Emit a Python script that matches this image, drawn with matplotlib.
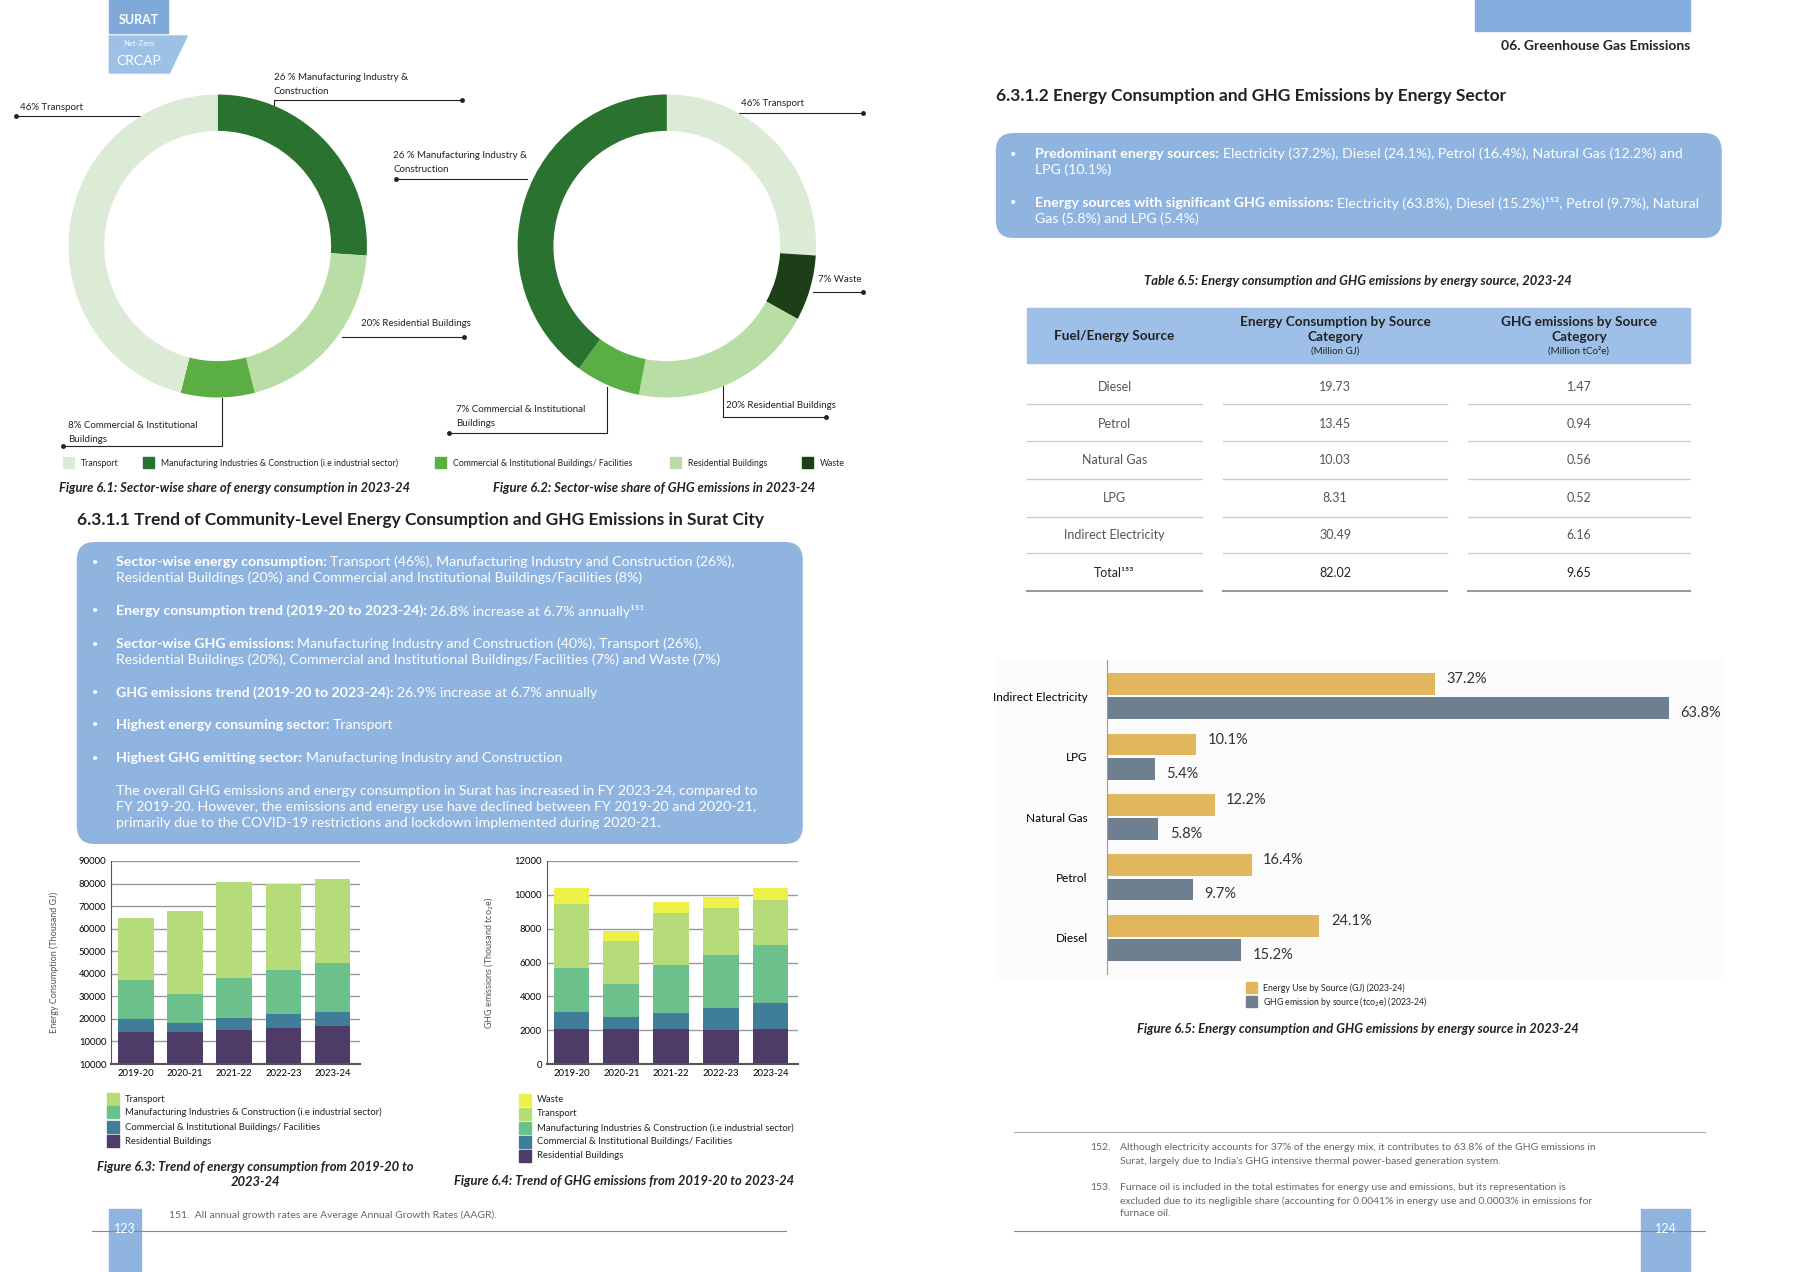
import numpy as np
import matplotlib
matplotlib.use("Agg")
import matplotlib.pyplot as plt
from matplotlib.patches import Rectangle, FancyBboxPatch, Polygon

plt.rcParams['font.family'] = ['Lato', 'DejaVu Sans']

W, H = 1800, 1272
XS = W / 0.985  # layout coords were read slightly wide

# ---- data ----
sectors_e = ["Manufacturing", "Residential", "Commercial", "Transport"]
share_energy = [26, 20, 8, 46]
sectors_g = ["Transport", "Waste", "Residential", "Commercial", "Manufacturing"]
share_ghg = [26, 7, 20, 7, 40]

years = ["2019-20", "2020-21", "2021-22", "2022-23", "2023-24"]
en_res = [14300, 14000, 15000, 15800, 16800]
en_com = [5500, 4200, 5500, 6200, 6400]
en_man = [17400, 12800, 17500, 19800, 21500]
en_tra = [27500, 37000, 42800, 38000, 37200]

gh_res = [2050, 2050, 2050, 2000, 2050]
gh_com = [1050, 700, 950, 1300, 1550]
gh_man = [2550, 2000, 2850, 3150, 3450]
gh_tra = [3800, 2550, 3050, 2750, 2650]
gh_was = [950, 550, 650, 650, 700]

sources = ["Diesel", "Petrol", "Natural Gas", "LPG", "Indirect Electricity"]
energy_pct = [24.1, 16.4, 12.2, 10.1, 37.2]
ghg_pct = [15.2, 9.7, 5.8, 5.4, 63.8]

tbl_sources = ["Diesel", "Petrol", "Natural Gas", "LPG", "Indirect Electricity", "Total¹⁵³"]
tbl_energy = ["19.73", "13.45", "10.03", "8.31", "30.49", "82.02"]
tbl_ghg = ["1.47", "0.94", "0.56", "0.52", "6.16", "9.65"]

# colours
c_tra, c_man, c_com, c_res, c_was = "#dcebd5", "#2a7230", "#5aae44", "#b8dea5", "#1d3f18"
b_res, b_com, b_man, b_tra, b_was = "#4f3b68", "#3f7d98", "#6cc08b", "#b5dc78", "#eef04a"
blue = "#8fb4e0"
dark = "#222222"
CF = 9.4  # caption font

fig = plt.figure(figsize=(18, 12.72), dpi=100)
bg = fig.add_axes([0, 0, 1, 1])
bg.set_xlim(0, XS); bg.set_ylim(H, 0); bg.axis("off")


def box(x0, y0, x1, y1):
    return [x0 / XS, 1 - y1 / H, (x1 - x0) / XS, (y1 - y0) / H]


def txt(x, y, s, size=8, **kw):
    kw.setdefault("va", "center")
    kw.setdefault("color", dark)
    bg.text(x, y, s, fontsize=size, **kw)


# ---- header / logo ----
bg.add_patch(Rectangle((111, 0), 60, 33, color="#7fa9d9"))
bg.add_patch(Polygon([(111, 36), (190, 36), (172, 73), (111, 73)], color="#9cc0e6"))
txt(141, 20, "SURAT", 9, weight="bold", color="white", ha="center")
txt(141, 44, "Net-Zero", 5.5, color="white", ha="center")
txt(141, 61, "CRCAP", 10, color="white", ha="center")
bg.add_patch(Rectangle((1497, 0), 219, 31, color="#84acdc"))
txt(1716, 46, "06. Greenhouse Gas Emissions", 10, weight="bold", ha="right")

# ---- donuts ----
for cx, vals, cols in [(221, share_energy, [c_man, c_res, c_com, c_tra]),
                       (677, share_ghg, [c_tra, c_was, c_res, c_com, c_man])]:
    r = 153
    ax = fig.add_axes(box(cx - r, 246 - r, cx + r, 246 + r))
    ax.pie(vals, colors=cols, startangle=90, counterclock=False,
           wedgeprops=dict(width=0.24, linewidth=0))
    ax.set_xlim(-1.01, 1.01); ax.set_ylim(-1.01, 1.01)
    ax.set_aspect("auto")


def leader(pts, dot):
    xs, ys = zip(*pts)
    bg.plot(xs, ys, color=dark, lw=0.8)
    bg.plot(*dot, "o", color=dark, ms=2.5)


txt(20, 107, "46% Transport", 7)
leader([(16, 116), (142, 116)], (16, 116))
txt(278, 78, "26 % Manufacturing Industry &", 7)
txt(278, 92, "Construction", 7)
leader([(278, 106), (278, 100), (469, 100)], (469, 100))
txt(367, 324, "20% Residential Buildings", 7)
leader([(347, 337), (471, 337)], (471, 337))
txt(69, 425, "8% Commercial & Institutional", 7)
txt(69, 439, "Buildings", 7)
leader([(225, 398), (225, 446), (64, 446)], (64, 446))

txt(752, 103, "46% Transport", 7)
leader([(750, 113), (876, 113)], (876, 113))
txt(399, 155, "26 % Manufacturing Industry &", 7)
txt(399, 169, "Construction", 7)
leader([(535, 179), (402, 179)], (402, 179))
txt(830, 279, "7% Waste", 7)
leader([(825, 292), (876, 292)], (876, 292))
txt(737, 405, "20% Residential Buildings", 7)
leader([(734, 385), (734, 417), (839, 417)], (839, 417))
txt(463, 409, "7% Commercial & Institutional", 7)
txt(463, 423, "Buildings", 7)
leader([(616, 387), (616, 433), (456, 433)], (456, 433))

for x, c, lab in [(64, c_tra, "Transport"),
                  (145, c_man, "Manufacturing Industries & Construction (i.e industrial sector)"),
                  (442, c_com, "Commercial & Institutional Buildings/ Facilities"),
                  (680, c_res, "Residential Buildings"), (814, c_was, "Waste")]:
    bg.add_patch(Rectangle((x, 457), 11, 11, color=c))
    txt(x + 18, 463, lab, 6.3)
txt(238, 488, "Figure 6.1: Sector-wise share of energy consumption in 2023-24", CF,
    style="italic", weight="bold", ha="center")
txt(664, 488, "Figure 6.2: Sector-wise share of GHG emissions in 2023-24", CF,
    style="italic", weight="bold", ha="center")

# ---- left text box ----
BF = 10.2
txt(78, 520, "6.3.1.1 Trend of Community-Level Energy Consumption and GHG Emissions in Surat City",
    12.5, weight="bold")
bg.add_patch(FancyBboxPatch((78, 542), 737, 302, boxstyle="round,pad=0,rounding_size=18",
                            color=blue, lw=0))
left_items = [
    (562, "Sector-wise energy consumption: ", "Transport (46%), Manufacturing Industry and Construction (26%),"),
    (578, "", "Residential Buildings (20%) and Commercial and Institutional Buildings/Facilities (8%)"),
    (611, "Energy consumption trend (2019-20 to 2023-24): ", "26.8% increase at 6.7% annually¹⁵¹"),
    (644, "Sector-wise GHG emissions: ", "Manufacturing Industry and Construction (40%), Transport (26%),"),
    (660, "", "Residential Buildings (20%), Commercial and Institutional Buildings/Facilities (7%) and Waste (7%)"),
    (693, "GHG emissions trend (2019-20 to 2023-24): ", "26.9% increase at 6.7% annually"),
    (725, "Highest energy consuming sector: ", "Transport"),
    (758, "Highest GHG emitting sector: ", "Manufacturing Industry and Construction"),
]
for y, b, rest in left_items:
    if b:
        txt(93, y, "•", 8, color="white")
        t = bg.text(118, y, b, fontsize=BF, weight="bold", color="white", va="center")
        bg.annotate(rest, xycoords=t, xy=(1, 0.5), va="center", fontsize=BF, color="white")
    else:
        txt(118, y, rest, BF, color="white")
for y, s in [(791, "The overall GHG emissions and energy consumption in Surat has increased in FY 2023-24, compared to"),
             (807, "FY 2019-20. However, the emissions and energy use have declined between FY 2019-20 and 2020-21,"),
             (823, "primarily due to the COVID-19 restrictions and lockdown implemented during 2020-21.")]:
    txt(118, y, s, BF, color="white")


# ---- stacked bars ----
def style_stack(ax):
    ax.set_facecolor("white")
    for s in ["top", "right"]:
        ax.spines[s].set_visible(False)
    ax.spines["left"].set_color("#555")
    ax.spines["bottom"].set_color("#555")
    ax.spines["bottom"].set_linewidth(1.5)
    ax.yaxis.grid(True, color="#999", lw=1)
    ax.set_axisbelow(True)
    ax.tick_params(length=0, labelsize=6.8)
    ax.set_xlim(-0.5, 4.55)


x = np.arange(len(years))
ax1 = fig.add_axes(box(113, 861, 365, 1064))
bottom = np.zeros(5)
for v, c in [(en_res, b_res), (en_com, b_com), (en_man, b_man), (en_tra, b_tra)]:
    ax1.bar(x, v, bottom=bottom, color=c, width=0.72)
    bottom += v
style_stack(ax1)
ax1.set_ylim(0, 90000)
ax1.set_yticks(range(0, 90001, 10000))
ax1.set_yticklabels(["10000"] + [str(t) for t in range(10000, 90001, 10000)])
ax1.set_xticks(x, years)
ax1.set_ylabel("Energy Consumption (Thousand GJ)", fontsize=6.5, color="#555", labelpad=14)

ax2 = fig.add_axes(box(555, 861, 810, 1064))
bottom = np.zeros(5)
for v, c in [(gh_res, b_res), (gh_com, b_com), (gh_man, b_man), (gh_tra, b_tra), (gh_was, b_was)]:
    ax2.bar(x, v, bottom=bottom, color=c, width=0.72)
    bottom += v
style_stack(ax2)
ax2.set_ylim(0, 12000)
ax2.set_yticks(range(0, 12001, 2000))
ax2.set_xticks(x, years)
ax2.set_ylabel("GHG emissions (Thousand tco$_2$e)", fontsize=6.5, color="#555", labelpad=14)

for y, c, lab in [(1099, b_tra, "Transport"),
                  (1112, b_man, "Manufacturing Industries & Construction (i.e industrial sector)"),
                  (1127, b_com, "Commercial & Institutional Buildings/ Facilities"),
                  (1141, b_res, "Residential Buildings")]:
    bg.add_patch(Rectangle((109, y - 6), 12, 12, color=c))
    txt(127, y, lab, 6.8)
for y, c, lab in [(1100, b_was, "Waste"), (1114, b_tra, "Transport"),
                  (1128, b_man, "Manufacturing Industries & Construction (i.e industrial sector)"),
                  (1142, b_com, "Commercial & Institutional Buildings/ Facilities"),
                  (1156, b_res, "Residential Buildings")]:
    bg.add_patch(Rectangle((527, y - 6), 12, 12, color=c))
    txt(545, y, lab, 6.8)
txt(259, 1167, "Figure 6.3: Trend of energy consumption from 2019-20 to", CF,
    style="italic", weight="bold", ha="center")
txt(259, 1182, "2023-24", CF, style="italic", weight="bold", ha="center")
txt(634, 1181, "Figure 6.4: Trend of GHG emissions from 2019-20 to 2023-24", CF,
    style="italic", weight="bold", ha="center")

# footer left
txt(172, 1215, "151.  All annual growth rates are Average Annual Growth Rates (AAGR).", 7.5, color="#666")
bg.plot([93, 798], [1231, 1231], color="#888", lw=0.8)
bg.add_patch(Rectangle((111, 1209), 32, 63, color=blue))
txt(127, 1229, "123", 9, color="white", ha="center")

# ---- right page ----
txt(1011, 96, "6.3.1.2 Energy Consumption and GHG Emissions by Energy Sector", 12.5, weight="bold")
bg.add_patch(FancyBboxPatch((1011, 133), 737, 105, boxstyle="round,pad=0,rounding_size=18",
                            color=blue, lw=0))
right_items = [
    (154, "Predominant energy sources: ", "Electricity (37.2%), Diesel (24.1%), Petrol (16.4%), Natural Gas (12.2%) and"),
    (170, "", "LPG (10.1%)"),
    (203, "Energy sources with significant GHG emissions: ", "Electricity (63.8%), Diesel (15.2%)¹⁵², Petrol (9.7%), Natural"),
    (219, "", "Gas (5.8%) and LPG (5.4%)"),
]
for y, b, rest in right_items:
    if b:
        txt(1025, y, "•", 8, color="white")
        t = bg.text(1051, y, b, fontsize=BF, weight="bold", color="white", va="center")
        bg.annotate(rest, xycoords=t, xy=(1, 0.5), va="center", fontsize=BF, color="white")
    else:
        txt(1051, y, rest, BF, color="white")

txt(1379, 281, "Table 6.5: Energy consumption and GHG emissions by energy source, 2023-24", CF,
    style="italic", weight="bold", ha="center")
bg.add_patch(Rectangle((1043, 308), 673, 55, color="#9ec0e8"))
cols = [(1043, 1220), (1242, 1469), (1490, 1716)]
cx = [(a + b) / 2 for a, b in cols]
txt(cx[0], 336, "Fuel/Energy Source", 9.8, weight="bold", ha="center")
for c, l1 in [(cx[1], "Energy Consumption by Source"), (cx[2], "GHG emissions by Source")]:
    txt(c, 322, l1, 9.8, weight="bold", ha="center")
    txt(c, 337, "Category", 9.8, weight="bold", ha="center")
txt(cx[1], 351, "(Million GJ)", 7, ha="center")
txt(cx[2], 351, "(Million tCo²e)", 7, ha="center")
row_y = [387, 424, 460, 498, 535, 573]
line_y = [404, 441, 479, 517, 553, 591]
for i, (s, e, g) in enumerate(zip(tbl_sources, tbl_energy, tbl_ghg)):
    last = i == len(tbl_sources) - 1
    fc = dark if last else "#555"
    for c, v in zip(cx, [s, e, g]):
        txt(c, row_y[i], v, 9, ha="center", color=fc)
    for a, b in cols:
        bg.plot([a, b], [line_y[i]] * 2, color="#999" if last else "#ccc", lw=1.5 if last else 1)

# horizontal bar chart
bg.add_patch(Rectangle((1012, 660), 736, 318, color="#fbfbfb", zorder=0))
ax3 = fig.add_axes(box(1124, 660, 1750, 974))
ax3.set_facecolor("none")
y = np.arange(len(sources))
hb = 0.36
ax3.barh(y + hb / 2 + 0.02, energy_pct, height=hb, color="#e2b65c")
ax3.barh(y - hb / 2 - 0.02, ghg_pct, height=hb, color="#6e7f90")
for i in range(len(sources)):
    ax3.text(energy_pct[i] + 1.3, y[i] + hb / 2 + 0.1, f"{energy_pct[i]}%", fontsize=10.5,
             va="center", color="#333")
    ax3.text(ghg_pct[i] + 1.3, y[i] - hb / 2 - 0.1, f"{ghg_pct[i]}%", fontsize=10.5,
             va="center", color="#333")
ax3.set_xlim(0, 70)
ax3.set_ylim(-0.6, 4.6)
ax3.set_yticks(y, sources)
ax3.tick_params(length=0, labelsize=8.5, pad=14)
ax3.set_xticks([])
for s in ["top", "right", "bottom"]:
    ax3.spines[s].set_visible(False)
ax3.spines["left"].set_color("#999")

bg.add_patch(Rectangle((1265, 982), 11, 11, color="#e2b65c"))
txt(1282, 988, "Energy Use by Source (GJ) (2023-24)", 6.3)
bg.add_patch(Rectangle((1265, 996), 11, 11, color="#6e7f90"))
txt(1282, 1002, "GHG emission by source (tco$_2$e) (2023-24)", 6.3)
txt(1379, 1029, "Figure 6.5: Energy consumption and GHG emissions by energy source in 2023-24", CF,
    style="italic", weight="bold", ha="center")

# footnotes right
bg.plot([1029, 1731], [1132, 1132], color="#aaa", lw=0.8)
notes = [(1148, "152.", "Although electricity accounts for 37% of the energy mix, it contributes to 63.8% of the GHG emissions in"),
         (1162, "", "Surat, largely due to India's GHG intensive thermal power-based generation system."),
         (1187, "153.", "Furnace oil is included in the total estimates for energy use and emissions, but its representation is"),
         (1201, "", "excluded due to its negligible share (accounting for 0.0041% in energy use and 0.0003% in emissions for"),
         (1213, "", "furnace oil.")]
for yy, n, s in notes:
    if n:
        txt(1107, yy, n, 7.5, color="#666")
    txt(1137, yy, s, 7.5, color="#666")
bg.plot([1029, 1731], [1231, 1231], color="#888", lw=0.8)
bg.add_patch(Rectangle((1666, 1209), 50, 63, color=blue))
txt(1691, 1229, "124", 9, color="white", ha="center")

fig.savefig("out.png", dpi=100)
